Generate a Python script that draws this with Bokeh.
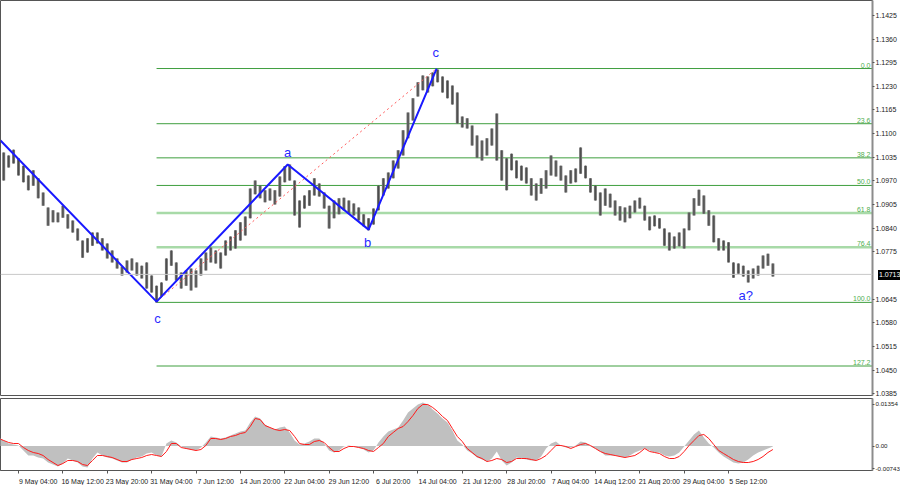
from bokeh.plotting import figure
from bokeh.layouts import column
from bokeh.models import (FixedTicker, PrintfTickFormatter, CustomJSTickFormatter,
                          Range1d, Span, Div)
from bokeh.core.properties import value
from bokeh.embed import file_html
from bokeh.resources import INLINE

# ---------------- data ----------------
hi = [1.1040,1.1048,1.1040,1.1056,1.1032,1.1012,1.0985,1.0999,1.0977,1.0938,
      1.0897,1.0889,1.0883,1.0902,1.0878,1.0861,1.0839,1.0806,1.0812,1.0828,
      1.0828,1.0812,1.0798,1.0779,1.0757,1.0735,1.0751,1.0757,1.0746,1.0737,
      1.0746,1.0710,1.0682,1.0691,1.0757,1.0779,1.0746,1.0718,1.0724,1.0729,
      1.0724,1.0757,1.0773,1.0787,1.0779,1.0773,1.0806,1.0817,1.0834,1.0856,
      1.0872,1.0949,1.0971,1.0957,1.0944,1.0949,1.0944,1.0982,1.1010,1.1015,
      1.0971,1.0916,1.0930,1.0944,1.0977,1.0963,1.0938,1.0902,1.0916,1.0922,
      1.0924,1.0916,1.0908,1.0897,1.0878,1.0867,1.0894,1.0957,1.0977,1.0993,
      1.1026,1.1054,1.1109,1.1158,1.1197,1.1241,1.1260,1.1257,1.1268,1.1276,
      1.1257,1.1246,1.1232,1.1213,1.1147,1.1142,1.1122,1.1095,1.1081,1.1087,
      1.1114,1.1155,1.1054,1.1032,1.1045,1.1026,1.1012,1.1007,1.0977,1.0963,
      1.0977,1.0999,1.1040,1.1026,1.1012,1.0985,1.0999,1.1004,1.1062,1.1012,
      1.0977,1.0957,1.0938,1.0949,1.0935,1.0916,1.0900,1.0897,1.0902,1.0916,
      1.0924,1.0902,1.0872,1.0875,1.0867,1.0839,1.0828,1.0817,1.0828,1.0839,
      1.0883,1.0922,1.0946,1.0930,1.0889,1.0875,1.0812,1.0806,1.0801,1.0746,
      1.0743,1.0737,1.0724,1.0729,1.0737,1.0765,1.0770,1.0743]
lo = [1.0977,1.0971,1.1007,1.1018,1.0985,1.0966,1.0944,1.0957,1.0922,1.0902,
      1.0847,1.0856,1.0856,1.0869,1.0839,1.0828,1.0806,1.0759,1.0773,1.0792,
      1.0798,1.0779,1.0757,1.0746,1.0729,1.0710,1.0718,1.0724,1.0710,1.0702,
      1.0674,1.0663,1.0636,1.0652,1.0696,1.0737,1.0696,1.0674,1.0682,1.0669,
      1.0677,1.0710,1.0724,1.0746,1.0743,1.0729,1.0765,1.0779,1.0784,1.0806,
      1.0820,1.0867,1.0933,1.0922,1.0911,1.0916,1.0905,1.0927,1.0966,1.0971,
      1.0875,1.0842,1.0894,1.0902,1.0930,1.0927,1.0894,1.0839,1.0867,1.0878,
      1.0889,1.0880,1.0875,1.0861,1.0845,1.0834,1.0850,1.0889,1.0930,1.0949,
      1.0977,1.1004,1.1040,1.1087,1.1136,1.1202,1.1219,1.1213,1.1230,1.1241,
      1.1213,1.1197,1.1180,1.1128,1.1117,1.1114,1.1067,1.1034,1.1026,1.1040,
      1.1067,1.1026,1.0971,1.0944,1.0999,1.0977,1.0971,1.0963,1.0930,1.0916,
      1.0935,1.0949,1.0985,1.0982,1.0971,1.0938,1.0963,1.0966,1.0990,1.0977,
      1.0938,1.0916,1.0875,1.0902,1.0897,1.0875,1.0861,1.0856,1.0867,1.0883,
      1.0894,1.0861,1.0834,1.0845,1.0839,1.0792,1.0779,1.0784,1.0790,1.0784,
      1.0834,1.0875,1.0902,1.0880,1.0847,1.0801,1.0779,1.0779,1.0746,1.0704,
      1.0715,1.0707,1.0691,1.0702,1.0710,1.0729,1.0737,1.0707]
macd = [0.00276,0.00179,0.00081,0.00049,0.00016,-0.00146,-0.00309,-0.00309,-0.00374,-0.00406,
        -0.00536,-0.00601,-0.00666,-0.00569,-0.00406,-0.00471,-0.00536,-0.00666,-0.00699,-0.00406,
        -0.00211,-0.00309,-0.00374,-0.00406,-0.00471,-0.00536,-0.00536,-0.00439,-0.00374,-0.00341,
        -0.00244,-0.00211,-0.00309,-0.00341,0.00081,0.00179,0.00114,-0.00016,-0.00081,-0.00114,
        -0.00146,-0.00049,0.00114,0.00309,0.00276,0.00244,0.00276,0.00341,0.00406,0.00471,
        0.00504,0.00764,0.00959,0.00894,0.00699,0.00601,0.00536,0.00601,0.00634,0.00439,
        0.00179,0.00049,0.00081,0.00146,0.00244,0.00244,0.00081,-0.00146,-0.00211,-0.00146,
        -0.00016,0.00016,-0.00016,-0.00049,-0.00114,-0.00211,-0.00146,0.00114,0.00309,0.00471,
        0.00536,0.00601,0.00829,0.01089,0.01219,0.01349,0.01414,0.01349,0.01186,0.01056,
        0.00894,0.00764,0.00504,0.00179,0.00049,-0.00146,-0.00244,-0.00374,-0.00439,-0.00504,
        -0.00406,-0.00179,-0.00471,-0.00634,-0.00536,-0.00374,-0.00406,-0.00439,-0.00471,-0.00471,
        -0.00341,-0.00081,0.00081,0.00146,0.00016,-0.00049,-0.00049,0.00016,0.00146,0.00114,
        -0.00016,-0.00081,-0.00179,-0.00309,-0.00309,-0.00309,-0.00341,-0.00374,-0.00309,-0.00211,
        -0.00146,-0.00081,-0.00146,-0.00211,-0.00211,-0.00309,-0.00341,-0.00309,-0.00211,-0.00016,
        0.00179,0.00374,0.00504,0.00276,0.00081,-0.00049,-0.00211,-0.00341,-0.00439,-0.00536,
        -0.00569,-0.00536,-0.00439,-0.00309,-0.00211,-0.00146,-0.00081,-0.00016]
signal = [0.00244,0.00179,0.00114,0.00081,0.00081,-0.00049,-0.00146,-0.00211,-0.00244,-0.00309,
          -0.00439,-0.00536,-0.00634,-0.00569,-0.00471,-0.00471,-0.00504,-0.00601,-0.00634,-0.00471,
          -0.00309,-0.00309,-0.00341,-0.00374,-0.00439,-0.00504,-0.00504,-0.00439,-0.00406,-0.00374,
          -0.00309,-0.00276,-0.00309,-0.00341,-0.00179,0.00081,0.00081,-0.00049,-0.00081,-0.00114,
          -0.00146,-0.00114,0.00016,0.00244,0.00244,0.00211,0.00244,0.00309,0.00341,0.00406,
          0.00439,0.00634,0.00894,0.00861,0.00666,0.00601,0.00536,0.00504,0.00536,0.00504,
          0.00309,0.00081,0.00049,0.00049,0.00146,0.00179,0.00114,-0.00049,-0.00179,-0.00179,
          -0.00081,-0.00016,-0.00016,-0.00049,-0.00081,-0.00146,-0.00179,-0.00049,0.00081,0.00309,
          0.00439,0.00569,0.00634,0.00796,0.00991,0.01219,0.01349,0.01349,0.01251,0.01121,
          0.00959,0.00829,0.00569,0.00309,0.00146,-0.00081,-0.00211,-0.00341,-0.00406,-0.00504,
          -0.00471,-0.00406,-0.00439,-0.00536,-0.00504,-0.00406,-0.00406,-0.00406,-0.00439,-0.00471,
          -0.00406,-0.00309,-0.00146,0.00016,0.00016,-0.00016,-0.00081,-0.00016,0.00049,0.00081,
          0.00016,-0.00081,-0.00179,-0.00244,-0.00276,-0.00309,-0.00341,-0.00374,-0.00341,-0.00309,
          -0.00211,-0.00081,-0.00179,-0.00211,-0.00244,-0.00341,-0.00406,-0.00406,-0.00341,-0.00179,
          0.00016,0.00179,0.00341,0.00374,0.00244,0.00049,-0.00146,-0.00244,-0.00341,-0.00439,
          -0.00504,-0.00536,-0.00536,-0.00504,-0.00439,-0.00341,-0.00211,-0.00114]
bars = list(range(len(hi)))

wave_x = [0.35, 32.0, 58.6, 75.0, 88.8]
wave_y = [1.1081, 1.0638, 1.1015, 1.0836, 1.1279]
wave_labels = ["c", "a", "b", "c", "a?"]
wave_label_x = [32.2, 58.6, 74.8, 88.6, 151.5]
wave_label_y = [1.0591, 1.1048, 1.0801, 1.1323, 1.0655]

fib_high = 1.1279
fib_low = 1.0636
fib_start = 32.0
fib_levels = [0.0, 23.6, 38.2, 50.0, 61.8, 76.4, 100.0, 127.2]
fib_names = ["0.0", "23.6", "38.2", "50.0", "61.8", "76.4", "100.0", "127.2"]

last_price = 1.0713
price_ticks = [1.0385, 1.0450, 1.0515, 1.0580, 1.0645, 1.0775, 1.0840, 1.0905,
               1.0970, 1.1035, 1.1100, 1.1165, 1.1230, 1.1295, 1.1360, 1.1425]
date_tick_bars = [4 + 9 * k for k in range(17)]
date_labels = ["9 May 04:00", "16 May 12:00", "23 May 20:00", "31 May 04:00", "7 Jun 12:00",
               "14 Jun 20:00", "22 Jun 04:00", "29 Jun 12:00", "6 Jul 20:00", "14 Jul 04:00",
               "21 Jul 12:00", "28 Jul 20:00", "7 Aug 04:00", "14 Aug 12:00", "21 Aug 20:00",
               "29 Aug 04:00", "5 Sep 12:00"]
ind_ticks = [0.01354, 0.0, -0.00743]

# ---------------- styles ----------------
FONT = "Liberation Sans"
X0, X1 = 0.35, 177.2
Y0, Y1 = 1.0380, 1.1466
MAIN_H = 395

def style_axis(ax, size="7px"):
    ax.axis_line_color = "#8c8c8c"
    ax.axis_line_width = 2
    ax.major_tick_line_color = "#555555"
    ax.major_tick_out = 2
    ax.major_tick_in = 0
    ax.minor_tick_line_color = None
    ax.major_label_text_font = FONT
    ax.major_label_text_font_size = size
    ax.major_label_text_color = "#222222"
    ax.major_label_standoff = 1

# ---------------- main price panel ----------------
p = figure(frame_width=872, frame_height=MAIN_H, output_backend="svg", toolbar_location=None,
           x_range=Range1d(X0, X1), y_range=Range1d(Y0, Y1),
           y_axis_location="right", min_border_left=0, min_border_top=0,
           min_border_bottom=3, min_border_right=0)
p.xaxis.visible = False
p.grid.visible = False
p.outline_line_color = "#555555"
p.background_fill_color = "white"
p.yaxis.ticker = FixedTicker(ticks=price_ticks)
p.yaxis.formatter = PrintfTickFormatter(format="%.4f")
style_axis(p.yaxis[0])

# current price line
p.add_layout(Span(location=last_price, dimension="width", line_color="#c8c8c8", line_width=1))

# fibonacci levels
for lvl, name in zip(fib_levels, fib_names):
    y = fib_high - (fib_high - fib_low) * lvl / 100.0
    light = lvl in (61.8, 76.4)
    p.segment(x0=[fib_start], y0=[y], x1=[X1], y1=[y],
              line_color="#a8daa8" if light else "#3f9f3f",
              line_width=2.5 if light else 1)
    p.text(x=[X1], y=[y], text=[name], x_offset=-2, y_offset=-1,
           text_align="right", text_baseline="bottom",
           text_font=value(FONT), text_font_size="7px", text_color="#4fae4f")

# bars
p.vbar(x=bars, bottom=lo, top=hi, width=0.6, fill_color="#727272", line_color=None)
p.segment(x0=bars, y0=lo, x1=bars, y1=hi, line_color="#4a4a4a", line_width=1)

# red dotted projection line
p.line(x=[wave_x[1], wave_x[4]], y=[wave_y[1], wave_y[4]], line_color="#ff5a5a",
       line_width=1, line_dash="2 3")
# wave lines
p.line(x=wave_x, y=wave_y, line_color="#1a1aff", line_width=2)
p.text(x=wave_label_x, y=wave_label_y, text=wave_labels, text_align="center",
       text_baseline="middle", text_font=value(FONT), text_font_size="13px",
       text_color="#2a2aff")

# ---------------- indicator panel ----------------
q = figure(frame_width=872, frame_height=72, output_backend="svg", toolbar_location=None,
           x_range=p.x_range, y_range=Range1d(-0.00796, 0.01544),
           y_axis_location="right", min_border_left=0, min_border_top=0,
           min_border_bottom=0, min_border_right=0)
q.grid.visible = False
q.outline_line_color = "#555555"
q.varea(x=bars, y1=0, y2=macd, fill_color="#c0c0c0")
q.line(x=bars, y=signal, line_color="#ff1a1a", line_width=1)

q.yaxis.ticker = FixedTicker(ticks=ind_ticks)
q.yaxis.formatter = CustomJSTickFormatter(
    code="return tick > 0.01 ? '0.01354' : (tick < -0.005 ? '-0.00743' : '0.00');")
style_axis(q.yaxis[0], size="6.2px")

xa = q.xaxis[0]
centers = [b + 4 for b in date_tick_bars]
xa.ticker = FixedTicker(ticks=centers, minor_ticks=date_tick_bars)
xa.major_label_overrides = {c: lab for c, lab in zip(centers, date_labels)}
xa.axis_line_color = "#555555"
xa.major_tick_line_color = None
xa.minor_tick_line_color = "#555555"
xa.minor_tick_out = 3
xa.minor_tick_in = 0
xa.major_label_text_font = FONT
xa.major_label_text_font_size = "7px"
xa.major_label_text_color = "#222222"
xa.major_label_standoff = 1

# black current-price box over the price axis (position from the y scale)
box_top = (Y1 - last_price) / (Y1 - Y0) * MAIN_H - 9
price_box = Div(text="1.0713", width=27, height=10,
                styles={"position": "absolute", "left": "873px", "top": "%dpx" % round(box_top),
                        "background-color": "black", "color": "white",
                        "font-size": "7px", "font-family": "Liberation Sans",
                        "line-height": "10px", "padding-left": "1px", "z-index": "10"})

layout = column(p, q, price_box, spacing=0)
open("out.html", "w").write(file_html(layout, INLINE))
